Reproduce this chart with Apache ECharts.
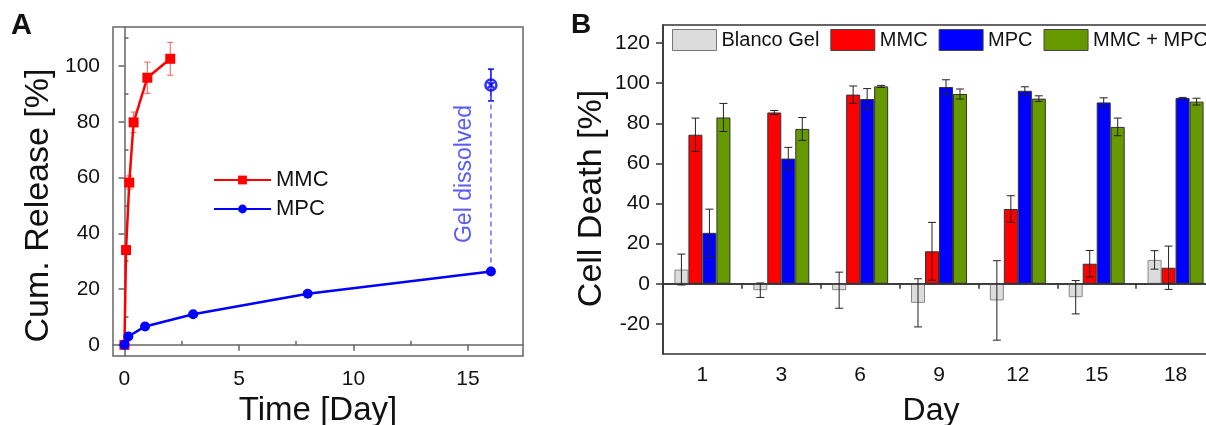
<!DOCTYPE html>
<html>
<head>
<meta charset="utf-8">
<script src="https://cdn.jsdelivr.net/npm/echarts@6/dist/echarts.min.js"></script>
<style>html,body{margin:0;padding:0;background:#fff}#c{width:1206px;height:425px}</style>
</head>
<body>
<div id="c"></div>
<script>
// ---- Panel A data ----
const mmcX = [0, 0.07, 0.21, 0.4, 1, 2];
const mmcY = [0, 34, 58.2, 79.8, 95.8, 102.6];
const mmcErr = [0, 1.2, 2.4, 3.7, 5.6, 5.9];
const mpcX = [0, 0.17, 0.9, 3, 8, 16];
const mpcY = [0, 3.0, 6.6, 11.0, 18.3, 26.3];
const gelX = [16];
const gelY = [93.2];
const gelErr = [5.7];
const aXTicks = [0, 5, 10, 15];
const aXMinor = [2.5, 7.5, 12.5];
const aYTicks = [0, 20, 40, 60, 80, 100];
const aYMinor = [10, 30, 50, 70, 90, 110];

// ---- Panel B data ----
const days = ['1', '3', '6', '9', '12', '15', '18'];
const blanco = [7.1, -3.2, -3.2, -9.5, -8.3, -6.7, 11.9];
const blancoErr = [7.7, 3.6, 9, 12, 19.8, 8.3, 4.6];
const mmcB = [74.3, 85.4, 94.3, 16.2, 37.3, 10, 8];
const mmcBErr = [8.3, 1, 4.3, 14.4, 6.6, 6.6, 10.8];
const mpcB = [25.4, 62.4, 92.1, 98.1, 96.2, 90.4, 92.6];
const mpcBErr = [11.8, 5.6, 5.2, 3.6, 2, 2.3, 0.3];
const combo = [82.9, 77.2, 98.4, 94.6, 92.3, 78.2, 90.8];
const comboErr = [7, 5.7, 0.5, 2.5, 1.4, 4.4, 1.7];
const bYTicks = [-20, 0, 20, 40, 60, 80, 100, 120];
const bYMinor = [-30, -10, 10, 30, 50, 70, 90, 110];

const FONT = 'Liberation Sans, Arial, sans-serif';
const BAR_W = 14;

function errA(xs, ys, es, color, lw, cap) {
  return {
    type: 'custom', xAxisIndex: 0, yAxisIndex: 0, z: 1,
    data: xs.map((x, i) => [x, ys[i], es[i]]),
    encode: { x: 0, y: 1 },
    renderItem: function (params, api) {
      const x = api.value(0), y = api.value(1), e = api.value(2);
      if (!e) return null;
      const t = api.coord([x, y + e]);
      const b = api.coord([x, y - e]);
      const st = { stroke: color, lineWidth: lw };
      return { type: 'group', children: [
        { type: 'line', shape: { x1: t[0], y1: t[1], x2: b[0], y2: b[1] }, style: st },
        { type: 'line', shape: { x1: t[0] - cap, y1: t[1], x2: t[0] + cap, y2: t[1] }, style: st },
        { type: 'line', shape: { x1: b[0] - cap, y1: b[1], x2: b[0] + cap, y2: b[1] }, style: st }
      ]};
    }
  };
}

function errB(vals, errs, idx) {
  return {
    type: 'custom', xAxisIndex: 2, yAxisIndex: 2, z: 5,
    data: vals.map((v, i) => [i, v, errs[i]]),
    encode: { x: 0, y: 1 },
    renderItem: function (params, api) {
      const i = api.value(0), v = api.value(1), e = api.value(2);
      const c = api.coord([i, v]);
      const x = c[0] + (idx - 1.5) * BAR_W;
      const t = api.coord([i, v + e])[1];
      const b = api.coord([i, v - e])[1];
      const st = { stroke: '#222', lineWidth: 1 };
      const cap = 4;
      return { type: 'group', children: [
        { type: 'line', shape: { x1: x, y1: t, x2: x, y2: b }, style: st },
        { type: 'line', shape: { x1: x - cap, y1: t, x2: x + cap, y2: t }, style: st },
        { type: 'line', shape: { x1: x - cap, y1: b, x2: x + cap, y2: b }, style: st }
      ]};
    }
  };
}

const axisA = { color: '#666', width: 1.5 };
const axisB = { color: '#333', width: 1.5 };

const option = {
  animation: false,
  backgroundColor: '#fff',
  textStyle: { fontFamily: FONT },
  grid: [
    { left: 113, top: 27, width: 410, height: 329, outerBoundsMode: 'none', containLabel: false,
      show: true, borderColor: '#666', borderWidth: 1.5, backgroundColor: 'transparent' },
    { left: 663, top: 25, width: 552, height: 329, outerBoundsMode: 'none', containLabel: false,
      show: true, borderColor: '#333', borderWidth: 1.5, backgroundColor: 'transparent' }
  ],
  xAxis: [
    { type: 'value', gridIndex: 0, min: -0.5, max: 17.4,
      axisLine: { show: true, lineStyle: axisA },
      axisTick: { show: true, customValues: aXTicks, length: 6, lineStyle: axisA },
      axisLabel: { customValues: aXTicks, fontSize: 21, color: '#111', margin: 13, fontFamily: FONT },
      splitLine: { show: false },
      name: 'Time [Day]', nameLocation: 'middle', nameGap: 38,
      nameTextStyle: { fontSize: 33, color: '#111', fontFamily: FONT } },
    { type: 'value', gridIndex: 0, min: -0.5, max: 17.4,
      axisLine: { show: false },
      axisTick: { show: true, customValues: aXMinor, length: 4, lineStyle: axisA },
      axisLabel: { show: false }, splitLine: { show: false } },
    { type: 'category', gridIndex: 1, data: days, boundaryGap: true,
      axisLine: { show: true, lineStyle: axisB },
      axisTick: { show: true, length: 5, lineStyle: axisB },
      axisLabel: { fontSize: 21, color: '#111', margin: 11, fontFamily: FONT },
      splitLine: { show: false },
      name: 'Day', nameLocation: 'middle', nameGap: 41,
      nameTextStyle: { fontSize: 32, color: '#111', fontFamily: FONT, padding: [0, 16, 0, 0] } }
  ],
  yAxis: [
    { type: 'value', gridIndex: 0, min: -4, max: 114,
      axisLine: { show: true, lineStyle: axisA },
      axisTick: { show: true, customValues: aYTicks, length: 6, lineStyle: axisA },
      axisLabel: { customValues: aYTicks, fontSize: 21, color: '#111', margin: 13, fontFamily: FONT },
      splitLine: { show: false },
      name: 'Cum. Release [%]', nameLocation: 'middle', nameGap: 57,
      nameTextStyle: { fontSize: 34, color: '#111', fontFamily: FONT, padding: [0, 28, 0, 0] } },
    { type: 'value', gridIndex: 0, min: -4, max: 114,
      axisLine: { show: false },
      axisTick: { show: true, customValues: aYMinor, length: 4, lineStyle: axisA },
      axisLabel: { show: false }, splitLine: { show: false } },
    { type: 'value', gridIndex: 1, min: -35, max: 129,
      axisLine: { show: true, lineStyle: axisB },
      axisTick: { show: true, customValues: bYTicks, length: 7, lineStyle: axisB },
      axisLabel: { customValues: bYTicks, fontSize: 21, color: '#111', margin: 13, fontFamily: FONT },
      splitLine: { show: false },
      name: 'Cell Death [%]', nameLocation: 'middle', nameGap: 54,
      nameTextStyle: { fontSize: 34, color: '#111', fontFamily: FONT, padding: [0, 18, 0, 0] } },
    { type: 'value', gridIndex: 1, min: -35, max: 129,
      axisLine: { show: false },
      axisTick: { show: true, customValues: bYMinor, length: 4, lineStyle: axisB },
      axisLabel: { show: false }, splitLine: { show: false } }
  ],
  legend: [
    { orient: 'vertical', left: 213, top: 169, padding: 0, itemGap: 7,
      itemWidth: 57, itemHeight: 11,
      textStyle: { fontSize: 22, color: '#111', fontFamily: FONT },
      data: ['MMC', 'MPC'] },
    { orient: 'horizontal', left: 672, top: 29, width: 700, padding: 0, itemGap: 11,
      itemWidth: 44, itemHeight: 21, icon: 'rect',
      textStyle: { fontSize: 20, color: '#111', fontFamily: FONT },
      data: [
        { name: 'Blanco Gel', icon: 'rect', itemStyle: { color: '#dcdcdc', borderColor: '#777', borderWidth: 1 } },
        { name: 'MMC', icon: 'rect', itemStyle: { color: '#ff0000', borderColor: '#444', borderWidth: 1 } },
        { name: 'MPC', icon: 'rect', itemStyle: { color: '#0000ff', borderColor: '#444', borderWidth: 1 } },
        { name: 'MMC + MPC', icon: 'rect', itemStyle: { color: '#669900', borderColor: '#444', borderWidth: 1 } }
      ] }
  ],
  graphic: [
    { type: 'text', left: 11, top: 11, style: { text: 'A', font: 'bold 29px ' + FONT, fill: '#111' } },
    { type: 'text', left: 571, top: 11, style: { text: 'B', font: 'bold 28px ' + FONT, fill: '#111' } },
    { type: 'text', x: 465, y: 174, rotation: Math.PI / 2,
      style: { text: 'Gel dissolved', font: '23px ' + FONT, fill: '#5a5aff', align: 'center', verticalAlign: 'middle' } }
  ],
  series: [
    { name: 'MMC', type: 'line', xAxisIndex: 0, yAxisIndex: 0, z: 3,
      data: mmcX.map((x, i) => [x, mmcY[i]]),
      symbol: 'rect', symbolSize: 10,
      lineStyle: { color: '#ff0000', width: 2.5 }, itemStyle: { color: '#ff0000' } },
    { name: 'MPC', type: 'line', xAxisIndex: 0, yAxisIndex: 0, z: 3,
      data: mpcX.map((x, i) => [x, mpcY[i]]),
      symbol: 'circle', symbolSize: 10,
      lineStyle: { color: '#0000ff', width: 2.5 }, itemStyle: { color: '#0000ff' } },
    { name: 'gel-link', type: 'line', xAxisIndex: 0, yAxisIndex: 0, z: 2,
      data: [[mpcX[mpcX.length - 1], mpcY[mpcY.length - 1]], [gelX[0], gelY[0]]],
      symbol: 'none',
      lineStyle: { color: '#6b6bff', width: 1.5, type: [5, 4] } },
    { name: 'gel', type: 'scatter', xAxisIndex: 0, yAxisIndex: 0, z: 4,
      data: gelX.map((x, i) => [x, gelY[i]]),
      symbol: 'path://M0,-5A5,5,0,1,1,0,5A5,5,0,1,1,0,-5ZM-3.5,-3.5L3.5,3.5M3.5,-3.5L-3.5,3.5',
      symbolSize: 11,
      itemStyle: { color: 'rgba(0,0,0,0)', borderColor: '#0000ff', borderWidth: 2.5 } },
    errA(mmcX, mmcY, mmcErr, '#ff5a5a', 1, 3),
    errA(gelX, gelY, gelErr, '#0000ff', 1.5, 3),

    { name: 'Blanco Gel', type: 'bar', xAxisIndex: 2, yAxisIndex: 2, data: blanco,
      barWidth: BAR_W, barGap: '0%',
      itemStyle: { color: '#dcdcdc', borderColor: '#888', borderWidth: 1 },
      markLine: { silent: true, symbol: 'none', label: { show: false },
        lineStyle: { color: '#333', width: 1.5, type: 'solid' }, data: [{ yAxis: 0 }] } },
    { name: 'MMC', type: 'bar', xAxisIndex: 2, yAxisIndex: 2, data: mmcB,
      barWidth: BAR_W, barGap: '0%',
      itemStyle: { color: '#ff0000', borderColor: '#333', borderWidth: 1 } },
    { name: 'MPC', type: 'bar', xAxisIndex: 2, yAxisIndex: 2, data: mpcB,
      barWidth: BAR_W, barGap: '0%',
      itemStyle: { color: '#0000ff', borderColor: '#333', borderWidth: 1 } },
    { name: 'MMC + MPC', type: 'bar', xAxisIndex: 2, yAxisIndex: 2, data: combo,
      barWidth: BAR_W, barGap: '0%',
      itemStyle: { color: '#669900', borderColor: '#333', borderWidth: 1 } },
    errB(blanco, blancoErr, 0),
    errB(mmcB, mmcBErr, 1),
    errB(mpcB, mpcBErr, 2),
    errB(combo, comboErr, 3)
  ]
};

const chart = echarts.init(document.getElementById('c'), null, { renderer: 'canvas' });
chart.setOption(option);
</script>
</body>
</html>
